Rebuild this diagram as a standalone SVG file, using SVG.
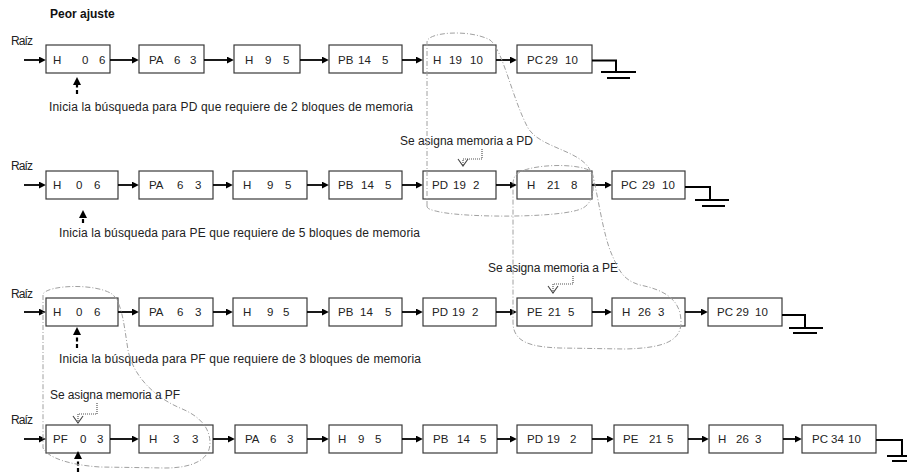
<svg xmlns="http://www.w3.org/2000/svg" width="907" height="472" viewBox="0 0 907 472">
  <defs>
    <style>
      .box { fill: #fff; stroke: #3a3a3a; stroke-width: 1.2; }
      .t { font-family: "Liberation Sans", Arial, sans-serif; font-size: 12px; fill: #222; }
      .b { font-family: "Liberation Sans", Arial, sans-serif; font-size: 11.5px; fill: #222; }
      .title { font-family: "Liberation Sans", Arial, sans-serif; font-size: 12px; font-weight: bold; fill: #111; }
      .link { stroke: #000; stroke-width: 1.8; fill: none; marker-end: url(#ah); }
      .probe { stroke: #000; stroke-width: 2.2; stroke-dasharray: 4 2.5; fill: none; marker-end: url(#ahp); }
      .ptr { stroke: #555; stroke-width: 1.2; stroke-dasharray: 1 1; fill: none; marker-end: url(#vh); }
      .gnd { stroke: #000; stroke-width: 2; fill: none; }
      .loop { stroke: #a0a0a0; stroke-width: 1; stroke-dasharray: 5 2 1 2; fill: none; }
    </style>
    <marker id="ah" viewBox="0 0 10 10" refX="6" refY="5" markerWidth="7" markerHeight="7" markerUnits="userSpaceOnUse" orient="auto">
      <path d="M0,0 L10,5 L0,10 z" fill="#000"/>
    </marker>
    <marker id="ahp" viewBox="0 0 10 10" refX="5" refY="5" markerWidth="8" markerHeight="8" markerUnits="userSpaceOnUse" orient="auto">
      <path d="M0,0 L10,5 L0,10 z" fill="#000"/>
    </marker>
    <marker id="vh" viewBox="-1 -6 9 12" refX="7" refY="0" markerWidth="9" markerHeight="12" markerUnits="userSpaceOnUse" orient="auto">
      <path d="M0,-5 L7,0 L0,5" fill="none" stroke="#444" stroke-width="1.1"/>
    </marker>
  </defs>

  <text class="title" x="50" y="18">Peor ajuste</text>

  <!-- Row 1 -->
  <g id="r1-root"><text class="t" x="11" y="45" textLength="22">Raíz</text></g>
  <g id="r1-n1"><rect class="box" x="46" y="45" width="64" height="28"/><text class="b" y="64"><tspan x="53">H</tspan><tspan x="82">0</tspan><tspan x="99">6</tspan></text></g>
  <g id="r1-n2"><rect class="box" x="139" y="45" width="65" height="28"/><text class="b" y="64"><tspan x="149">PA</tspan><tspan x="174">6</tspan><tspan x="190">3</tspan></text></g>
  <g id="r1-n3"><rect class="box" x="234" y="45" width="66" height="28"/><text class="b" y="64"><tspan x="245">H</tspan><tspan x="265">9</tspan><tspan x="283">5</tspan></text></g>
  <g id="r1-n4"><rect class="box" x="329" y="45" width="73" height="28"/><text class="b" y="64"><tspan x="338">PB</tspan><tspan x="358">14</tspan><tspan x="382">5</tspan></text></g>
  <g id="r1-n5"><rect class="box" x="423" y="45" width="73" height="28"/><text class="b" y="64"><tspan x="433">H</tspan><tspan x="449">19</tspan><tspan x="470">10</tspan></text></g>
  <g id="r1-n6"><rect class="box" x="517" y="45" width="75" height="28"/><text class="b" y="64"><tspan x="527">PC</tspan><tspan x="545">29</tspan><tspan x="565">10</tspan></text></g>
  <g id="r1-note"><text class="t" x="49" y="111" textLength="364">Inicia la búsqueda para PD que requiere de 2 bloques de memoria</text></g>

  <!-- Row 2 -->
  <g id="r2-root"><text class="t" x="11" y="170" textLength="22">Raíz</text></g>
  <g id="r2-n1"><rect class="box" x="46" y="171" width="72" height="28"/><text class="b" y="189"><tspan x="53">H</tspan><tspan x="76">0</tspan><tspan x="94">6</tspan></text></g>
  <g id="r2-n2"><rect class="box" x="139" y="171" width="74" height="28"/><text class="b" y="189"><tspan x="149">PA</tspan><tspan x="177">6</tspan><tspan x="195">3</tspan></text></g>
  <g id="r2-n3"><rect class="box" x="233" y="171" width="74" height="28"/><text class="b" y="189"><tspan x="243">H</tspan><tspan x="267">9</tspan><tspan x="285">5</tspan></text></g>
  <g id="r2-n4"><rect class="box" x="329" y="171" width="73" height="28"/><text class="b" y="189"><tspan x="338">PB</tspan><tspan x="361">14</tspan><tspan x="385">5</tspan></text></g>
  <g id="r2-n5"><rect class="box" x="423" y="171" width="73" height="28"/><text class="b" y="189"><tspan x="432">PD</tspan><tspan x="453">19</tspan><tspan x="473">2</tspan></text></g>
  <g id="r2-n6"><rect class="box" x="517" y="171" width="75" height="28"/><text class="b" y="189"><tspan x="527">H</tspan><tspan x="547">21</tspan><tspan x="571">8</tspan></text></g>
  <g id="r2-n7"><rect class="box" x="612" y="171" width="73" height="28"/><text class="b" y="189"><tspan x="621">PC</tspan><tspan x="642">29</tspan><tspan x="662">10</tspan></text></g>
  <g id="r2-alloc"><text class="t" x="400" y="145" textLength="133">Se asigna memoria a PD</text></g>
  <g id="r2-note"><text class="t" x="59" y="237" textLength="361">Inicia la búsqueda para PE que requiere de 5 bloques de memoria</text></g>

  <!-- Row 3 -->
  <g id="r3-root"><text class="t" x="11" y="298" textLength="22">Raíz</text></g>
  <g id="r3-n1"><rect class="box" x="46" y="298" width="72" height="28"/><text class="b" y="316"><tspan x="53">H</tspan><tspan x="76">0</tspan><tspan x="94">6</tspan></text></g>
  <g id="r3-n2"><rect class="box" x="139" y="298" width="74" height="28"/><text class="b" y="316"><tspan x="149">PA</tspan><tspan x="177">6</tspan><tspan x="195">3</tspan></text></g>
  <g id="r3-n3"><rect class="box" x="233" y="298" width="74" height="28"/><text class="b" y="316"><tspan x="243">H</tspan><tspan x="267">9</tspan><tspan x="283">5</tspan></text></g>
  <g id="r3-n4"><rect class="box" x="329" y="298" width="73" height="28"/><text class="b" y="316"><tspan x="338">PB</tspan><tspan x="360">14</tspan><tspan x="385">5</tspan></text></g>
  <g id="r3-n5"><rect class="box" x="423" y="298" width="73" height="28"/><text class="b" y="316"><tspan x="432">PD</tspan><tspan x="452">19</tspan><tspan x="472">2</tspan></text></g>
  <g id="r3-n6"><rect class="box" x="517" y="298" width="75" height="28"/><text class="b" y="316"><tspan x="527">PE</tspan><tspan x="548">21</tspan><tspan x="568">5</tspan></text></g>
  <g id="r3-n7"><rect class="box" x="612" y="298" width="73" height="28"/><text class="b" y="316"><tspan x="622">H</tspan><tspan x="638">26</tspan><tspan x="658">3</tspan></text></g>
  <g id="r3-n8"><rect class="box" x="708" y="298" width="74" height="28"/><text class="b" y="316"><tspan x="717">PC</tspan><tspan x="736">29</tspan><tspan x="755">10</tspan></text></g>
  <g id="r3-alloc"><text class="t" x="488" y="272" textLength="130">Se asigna memoria a PE</text></g>
  <g id="r3-note"><text class="t" x="59" y="363" textLength="362">Inicia la búsqueda para PF que requiere de 3 bloques de memoria</text></g>

  <!-- Row 4 -->
  <g id="r4-root"><text class="t" x="11" y="424" textLength="22">Raíz</text></g>
  <g id="r4-n1"><rect class="box" x="46" y="425" width="64" height="28"/><text class="b" y="443"><tspan x="53">PF</tspan><tspan x="80">0</tspan><tspan x="97">3</tspan></text></g>
  <g id="r4-n2"><rect class="box" x="139" y="425" width="74" height="28"/><text class="b" y="443"><tspan x="149">H</tspan><tspan x="173">3</tspan><tspan x="192">3</tspan></text></g>
  <g id="r4-n3"><rect class="box" x="235" y="425" width="72" height="28"/><text class="b" y="443"><tspan x="245">PA</tspan><tspan x="270">6</tspan><tspan x="287">3</tspan></text></g>
  <g id="r4-n4"><rect class="box" x="329" y="425" width="73" height="28"/><text class="b" y="443"><tspan x="338">H</tspan><tspan x="358">9</tspan><tspan x="375">5</tspan></text></g>
  <g id="r4-n5"><rect class="box" x="423" y="425" width="74" height="28"/><text class="b" y="443"><tspan x="433">PB</tspan><tspan x="457">14</tspan><tspan x="480">5</tspan></text></g>
  <g id="r4-n6"><rect class="box" x="517" y="425" width="75" height="28"/><text class="b" y="443"><tspan x="527">PD</tspan><tspan x="547">19</tspan><tspan x="570">2</tspan></text></g>
  <g id="r4-n7"><rect class="box" x="614" y="425" width="74" height="28"/><text class="b" y="443"><tspan x="623">PE</tspan><tspan x="649">21</tspan><tspan x="667">5</tspan></text></g>
  <g id="r4-n8"><rect class="box" x="709" y="425" width="74" height="28"/><text class="b" y="443"><tspan x="718">H</tspan><tspan x="736">26</tspan><tspan x="755">3</tspan></text></g>
  <g id="r4-n9"><rect class="box" x="802" y="425" width="74" height="28"/><text class="b" y="443"><tspan x="812">PC</tspan><tspan x="831">34</tspan><tspan x="848">10</tspan></text></g>
  <g id="r4-alloc"><text class="t" x="50" y="399" textLength="130">Se asigna memoria a PF</text></g>

  <!-- list links, search probes, allocation pointers, list terminators -->
  <g id="connectors">
    <path class="link" d="M24,60 H43"/>
    <path class="link" d="M110,60 H136"/>
    <path class="link" d="M204,60 H231"/>
    <path class="link" d="M300,60 H326"/>
    <path class="link" d="M402,60 H420"/>
    <path class="link" d="M496,60 H514"/>

    <path class="link" d="M24,185 H43"/>
    <path class="link" d="M118,185 H136"/>
    <path class="link" d="M213,185 H230"/>
    <path class="link" d="M307,185 H326"/>
    <path class="link" d="M402,185 H420"/>
    <path class="link" d="M496,185 H514"/>
    <path class="link" d="M592,185 H609"/>

    <path class="link" d="M24,312 H43"/>
    <path class="link" d="M118,312 H136"/>
    <path class="link" d="M213,312 H230"/>
    <path class="link" d="M307,312 H326"/>
    <path class="link" d="M402,312 H420"/>
    <path class="link" d="M496,312 H514"/>
    <path class="link" d="M592,312 H609"/>
    <path class="link" d="M685,312 H705"/>

    <path class="link" d="M24,439 H43"/>
    <path class="link" d="M110,439 H136"/>
    <path class="link" d="M213,439 H232"/>
    <path class="link" d="M307,439 H326"/>
    <path class="link" d="M402,439 H420"/>
    <path class="link" d="M497,439 H514"/>
    <path class="link" d="M592,439 H611"/>
    <path class="link" d="M688,439 H706"/>
    <path class="link" d="M783,439 H799"/>

    <path class="probe" d="M77,94 V81"/>
    <path class="probe" d="M83,223 V214"/>
    <path class="probe" d="M77,348 V331"/>
    <path class="probe" d="M78,472 V455"/>

    <path class="ptr" d="M482,149 V159 H463 V166"/>
    <path class="ptr" d="M573,276 V284 H553 V293"/>
    <path class="ptr" d="M97,403 V414 H78 V423"/>

    <path class="gnd" d="M592,60.5 H616 V72 M601,72 H636 M607,78 H630"/>
    <path class="gnd" d="M685,187 H710 V200 M695,200 H729 M702,206 H725"/>
    <path class="gnd" d="M782,315 H805 V328 M789,328 H823 M793,333 H817"/>
    <path class="gnd" d="M876,440 H902 V456 M887,456 H910 M892,461 H910"/>
  </g>

  <!-- outlines around the blocks touched by each allocation -->
  <g id="regions">
    <path class="loop" d="M427,206 L427,42 C427,32 470,29 490,40 C503,50 512,98 528,128 C540,148 580,150 590,170 C596,185 594,202 583,208 C565,218 470,218 440,212 C431,210 427,209 427,206 Z"/>
    <path class="loop" d="M516,175 C525,164 580,162 592,172 C598,195 603,235 612,255 C618,268 622,280 640,285 C665,290 681,300 681,322 C681,342 662,348 625,349 L560,348 C530,347 513,342 513,322 L513,185 C513,180 514,177 516,175 Z"/>
    <path class="loop" d="M43,360 L43,294 C48,285 95,283 112,294 C122,302 124,325 128,350 C132,372 150,395 180,408 C200,416 210,428 210,443 C210,460 192,468 165,468 L100,467 C70,465 48,458 43,448 Z"/>
  </g>
</svg>
